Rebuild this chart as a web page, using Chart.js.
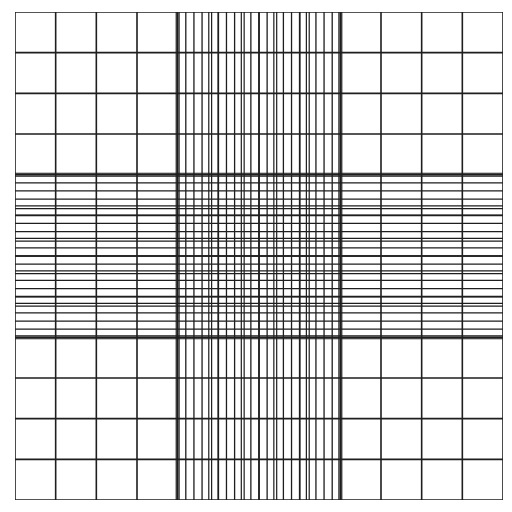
<!DOCTYPE html>
<html>
<head>
<script src="https://cdn.jsdelivr.net/npm/chart.js@4.4.0/dist/chart.umd.min.js"></script>
<style>
  html, body { margin: 0; padding: 0; background: #fff; }
  #wrap { width: 512px; height: 512px; }
</style>
</head>
<body>
<div id="wrap"><canvas id="grid"></canvas></div>
<script>
// grid line positions (in big-square units)
const majorLines = [0, 1, 2, 3, 4, 5, 6, 7, 8, 9, 10, 11, 12];
const fineLines = [4.2, 4.4, 4.6, 5.0, 5.2, 5.4, 5.8, 6.0, 6.2, 6.6, 6.8, 7.0, 7.4, 7.6, 7.8];
const doubleLines = [4, 4.8, 5.6, 6.4, 7.2, 8];
const doubleOffset = 0.07;
const extent = [0, 12];

// Build segment points for vertical + horizontal lines, separated by nulls
function segments(positions) {
  const pts = [];
  positions.forEach(p => {
    pts.push({ x: p, y: extent[0] }, { x: p, y: extent[1] }, { x: null, y: null });
    pts.push({ x: extent[0], y: p }, { x: extent[1], y: p }, { x: null, y: null });
  });
  return pts;
}

const doubled = [];
doubleLines.forEach(p => { doubled.push(p - doubleOffset / 2, p + doubleOffset / 2); });

const lineSet = (label, data, width) => ({
  label, data, showLine: true, spanGaps: false,
  borderColor: '#1e1e1e', borderWidth: width, pointRadius: 0, fill: false
});

new Chart(document.getElementById('grid').getContext('2d'), {
  type: 'scatter',
  data: {
    datasets: [
      lineSet('major', segments(majorLines), 1.6),
      lineSet('fine', segments(fineLines), 1.3),
      lineSet('double', segments(doubled), 1.2),
    ],
  },
  options: {
    responsive: true,
    maintainAspectRatio: false,
    animation: false,
    layout: { padding: { left: 15, right: 9, top: 12, bottom: 12 } },
    plugins: { legend: { display: false }, tooltip: { enabled: false } },
    scales: {
      x: { type: 'linear', min: 0, max: 12, display: false },
      y: { type: 'linear', min: 0, max: 12, display: false },
    },
  },
});
</script>
</body>
</html>
